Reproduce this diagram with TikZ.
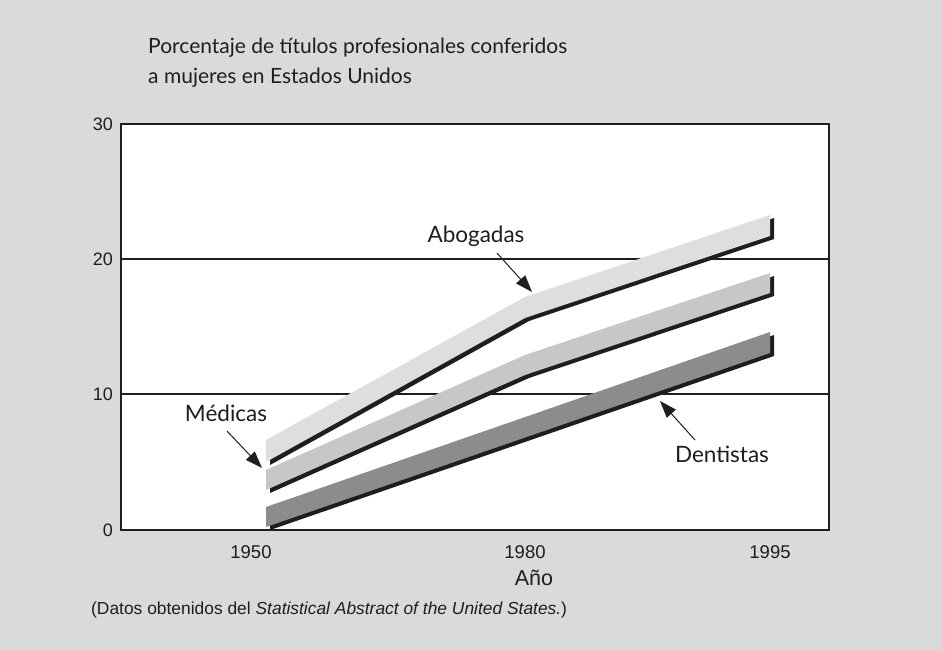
\documentclass[tikz,border=0pt]{standalone}
\usepackage{fontspec}
\setmainfont{Liberation Sans}
\newfontfamily\hum{Lato}
\usetikzlibrary{arrows.meta}
\definecolor{bgc}{HTML}{DADADA}
\definecolor{bandA}{HTML}{DEDEDE}
\definecolor{bandM}{HTML}{C7C7C7}
\definecolor{bandD}{HTML}{8C8C8C}
\definecolor{ink}{HTML}{1E1E1E}
\tikzset{
  frameline/.style={draw=ink, line width=2pt},
  gridline/.style={draw=ink, line width=1.8pt},
  shadow/.style={fill=ink, draw=none},
  ptr/.style={draw=ink, line width=1pt, -{Triangle[length=17pt,width=12pt]}},
  ylab/.style={anchor=east, font=\fontsize{18}{22}\selectfont, text=ink, inner sep=0pt},
  xlab/.style={anchor=center, font=\fontsize{18.5}{22}\selectfont, text=ink, inner sep=0pt},
  lab/.style={anchor=center, font=\hum\fontsize{22.5}{27}\selectfont, text=ink, inner sep=0pt},
  ttl/.style={anchor=base west, font=\hum\fontsize{21}{26}\selectfont, text=ink, inner sep=0pt},
}
\begin{document}
\begin{tikzpicture}[x=1pt, y=-1pt]
\fill[bgc] (0,0) rectangle (942,650);
\useasboundingbox (0,0) rectangle (942,650);
% plot area
\fill[white] (121,124) rectangle (829,530);
\draw[gridline] (121,259) -- (829,259);
\draw[gridline] (121,394) -- (829,394);
% Abogadas band
\fill[shadow, shift={(4,3)}] (266,440) -- (525,297) -- (770,215) -- (770,236) -- (525,318) -- (266,462) -- cycle;
\fill[bandA] (266,440) -- (525,297) -- (770,215) -- (770,236) -- (525,318) -- (266,462) -- cycle;
% Medicas band
\fill[shadow, shift={(4,3)}] (266,470) -- (525,355) -- (770,273) -- (770,293) -- (525,375) -- (266,490) -- cycle;
\fill[bandM] (266,470) -- (525,355) -- (770,273) -- (770,293) -- (525,375) -- (266,490) -- cycle;
% Dentistas band
\fill[shadow, shift={(4,3)}] (266,507) -- (770,332) -- (770,353) -- (266,527) -- cycle;
\fill[bandD] (266,507) -- (770,332) -- (770,353) -- (266,527) -- cycle;
% frame
\draw[frameline] (121,124) rectangle (829,530);
% axis labels
\node[ylab] (y30) at (113,124) {30};
\node[ylab] (y20) at (113,259) {20};
\node[ylab] (y10) at (113,394) {10};
\node[ylab] (y0) at (113,530) {0};
\node[xlab] (x1950) at (251,552) {1950};
\node[xlab] (x1980) at (525,552) {1980};
\node[xlab] (x1995) at (770,552) {1995};
\node[anchor=center, font=\fontsize{21.5}{26}\selectfont, text=ink, inner sep=0pt] (ano) at (534,578) {Año};
% title
\node[ttl] (t1) at (148,54) {Porcentaje de títulos profesionales conferidos};
\node[ttl] (t2) at (148,84) {a mujeres en Estados Unidos};
% caption
\node[anchor=base west, font=\fontsize{17.4}{21}\selectfont, text=ink, inner sep=0pt] (cap) at (91,614) {(Datos obtenidos del \textit{Statistical Abstract of the United States.})};
% labels and pointers
\node[lab] (abo) at (476,236) {Abogadas};
\node[lab] (med) at (226,413) {Médicas};
\node[lab] (den) at (722,454) {Dentistas};
\coordinate (aboTip) at (532,292);
\coordinate (medTip) at (262,468);
\coordinate (denTip) at (660,401);
\draw[ptr] (497,253) -- (aboTip);
\draw[ptr] (227,431) -- (medTip);
\draw[ptr] (695,440) -- (denTip);
\end{tikzpicture}
\end{document}
